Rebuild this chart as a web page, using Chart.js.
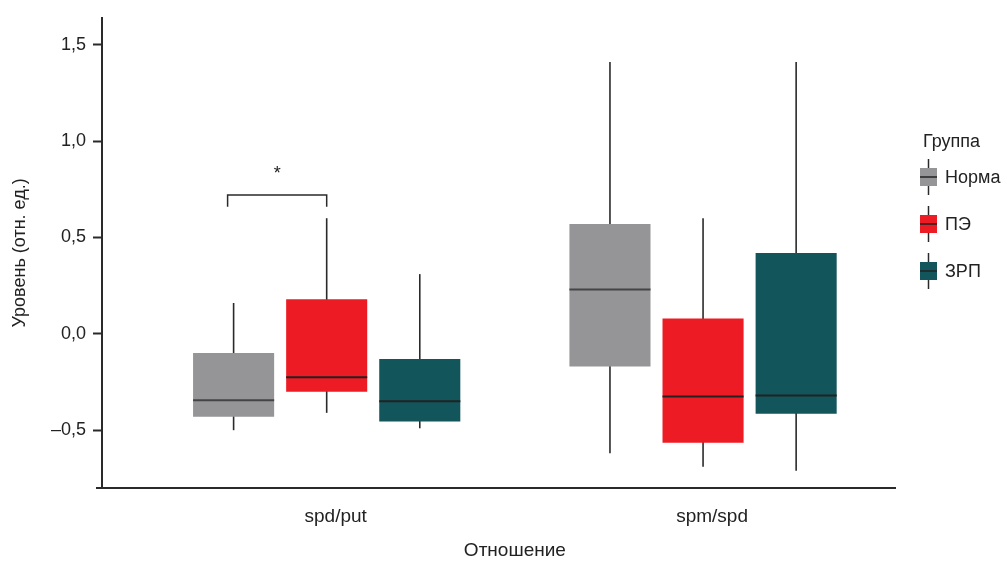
<!DOCTYPE html>
<html>
<head>
<meta charset="utf-8">
<script src="https://cdn.jsdelivr.net/npm/chart.js@4.4.0/dist/chart.umd.min.js"></script>
<style>
  html, body { margin: 0; padding: 0; background: #fff; }
  #wrap { width: 1007px; height: 563px; }
</style>
</head>
<body>
<div id="wrap"><canvas id="box-chart"></canvas></div>
<script>
// categories and groups
const categories = ['spd/put', 'spm/spd'];
const groups = ['Норма', 'ПЭ', 'ЗРП'];
const groupColors = ['#959598', '#ED1C24', '#12555B'];
const yTicks = [-0.5, 0, 0.5, 1.0, 1.5];

// box stats per group, one value per category
const normaMin = [-0.50, -0.62];
const normaQ1 = [-0.43, -0.17];
const normaMed = [-0.345, 0.23];
const normaQ3 = [-0.10, 0.57];
const normaMax = [0.16, 1.41];

const peMin = [-0.41, -0.69];
const peQ1 = [-0.30, -0.565];
const peMed = [-0.225, -0.325];
const peQ3 = [0.18, 0.08];
const peMax = [0.60, 0.60];

const zrpMin = [-0.49, -0.71];
const zrpQ1 = [-0.455, -0.415];
const zrpMed = [-0.35, -0.32];
const zrpQ3 = [-0.13, 0.42];
const zrpMax = [0.31, 1.41];

// significance mark between Норма and ПЭ in spd/put
const sigBracket = { category: 0, from: 0, to: 1, level: 0.72, drop: 0.66, label: '*' };

const FONT = "'Liberation Sans', Arial, sans-serif";
const stats = [
    { min: normaMin, q1: normaQ1, med: normaMed, q3: normaQ3, max: normaMax },
    { min: peMin, q1: peQ1, med: peMed, q3: peQ3, max: peMax },
    { min: zrpMin, q1: zrpQ1, med: zrpMed, q3: zrpQ3, max: zrpMax }
];

const datasets = groups.map((name, g) => ({
    label: name,
    data: categories.map((c, i) => ({ x: i, y: [stats[g].q1[i], stats[g].q3[i]] })),
    backgroundColor: groupColors[g],
    borderWidth: 0,
    categoryPercentage: 0.742,
    barPercentage: 0.871
}));

// whiskers under the boxes, medians over them
const boxParts = {
    id: 'boxParts',
    beforeDatasetsDraw(chart) {
        const ctx = chart.ctx;
        const y = chart.scales.y;
        ctx.save();
        ctx.strokeStyle = '#2a2a2a';
        ctx.lineWidth = 1.6;
        chart.data.datasets.forEach((ds, g) => {
            chart.getDatasetMeta(g).data.forEach((bar, i) => {
                ctx.beginPath();
                ctx.moveTo(bar.x, y.getPixelForValue(stats[g].max[i]));
                ctx.lineTo(bar.x, y.getPixelForValue(stats[g].min[i]));
                ctx.stroke();
            });
        });
        ctx.restore();
    },
    afterDatasetsDraw(chart) {
        const ctx = chart.ctx;
        const y = chart.scales.y;
        ctx.save();
        ctx.lineWidth = 2;
        chart.data.datasets.forEach((ds, g) => {
            ctx.strokeStyle = g === 0 ? '#444446' : '#222';
            chart.getDatasetMeta(g).data.forEach((bar, i) => {
                const py = y.getPixelForValue(stats[g].med[i]);
                ctx.beginPath();
                ctx.moveTo(bar.x - bar.width / 2, py);
                ctx.lineTo(bar.x + bar.width / 2, py);
                ctx.stroke();
            });
        });

        // significance bracket
        const a = chart.getDatasetMeta(sigBracket.from).data[sigBracket.category];
        const b = chart.getDatasetMeta(sigBracket.to).data[sigBracket.category];
        const x1 = a.x - 6, x2 = b.x;
        const yl = y.getPixelForValue(sigBracket.level);
        const yd = y.getPixelForValue(sigBracket.drop);
        ctx.strokeStyle = '#2a2a2a';
        ctx.lineWidth = 1.5;
        ctx.beginPath();
        ctx.moveTo(x1, yd);
        ctx.lineTo(x1, yl);
        ctx.lineTo(x2, yl);
        ctx.lineTo(x2, yd);
        ctx.stroke();
        ctx.fillStyle = '#222';
        ctx.font = '18px ' + FONT;
        ctx.textAlign = 'center';
        ctx.textBaseline = 'middle';
        ctx.fillText(sigBracket.label, (x1 + x2) / 2, yl - 21);

        // x axis title, centred between the two categories
        const xs = chart.scales.x;
        ctx.font = '19px ' + FONT;
        ctx.fillStyle = '#222';
        ctx.fillText('Отношение', xs.getPixelForValue(0.5), 551);

        // small overhang of the x axis to the left
        ctx.strokeStyle = '#2a2a2a';
        ctx.lineWidth = 2;
        ctx.beginPath();
        ctx.moveTo(chart.chartArea.left - 6, chart.chartArea.bottom);
        ctx.lineTo(chart.chartArea.left, chart.chartArea.bottom);
        ctx.stroke();
        ctx.restore();
    }
};

// legend with little box glyphs
const boxLegend = {
    id: 'boxLegend',
    afterDraw(chart) {
        const ctx = chart.ctx;
        ctx.save();
        ctx.fillStyle = '#222';
        ctx.font = '18px ' + FONT;
        ctx.textAlign = 'left';
        ctx.textBaseline = 'middle';
        ctx.fillText('Группа', 923, 142);
        groups.forEach((name, g) => {
            const cy = 177 + g * 47;
            ctx.strokeStyle = '#2a2a2a';
            ctx.lineWidth = 1.5;
            ctx.beginPath();
            ctx.moveTo(928.5, cy - 18);
            ctx.lineTo(928.5, cy + 18);
            ctx.stroke();
            ctx.fillStyle = groupColors[g];
            ctx.fillRect(920, cy - 9, 17, 18);
            ctx.strokeStyle = '#222';
            ctx.lineWidth = 1.5;
            ctx.beginPath();
            ctx.moveTo(920, cy);
            ctx.lineTo(937, cy);
            ctx.stroke();
            ctx.fillStyle = '#222';
            ctx.fillText(name, 945, cy + 1);
        });
        ctx.restore();
    }
};

const ctx = document.getElementById('box-chart').getContext('2d');
const chart = new Chart(ctx, {
    type: 'bar',
    data: { datasets: datasets },
    options: {
        responsive: true,
        maintainAspectRatio: false,
        animation: false,
        layout: { padding: { left: 0, right: 112, top: 14, bottom: 0 } },
        plugins: {
            legend: { display: false },
            tooltip: { enabled: false }
        },
        scales: {
            x: {
                type: 'linear',
                offset: false,
                min: -0.597,
                max: 1.51,
                afterBuildTicks: (scale) => { scale.ticks = categories.map((c, i) => ({ value: i })); },
                afterFit: (scale) => { scale.height = 75; },
                grid: { display: false, drawTicks: false },
                border: { display: true, color: '#2a2a2a', width: 2 },
                ticks: {
                    callback: (v) => categories[v],
                    color: '#222',
                    font: { family: FONT, size: 19 },
                    padding: 17,
                    labelOffset: 9,
                    maxRotation: 0
                }
            },
            y: {
                min: -0.8,
                max: 1.64,
                afterBuildTicks: (scale) => { scale.ticks = yTicks.map(v => ({ value: v })); },
                afterFit: (scale) => { scale.width = 102; },
                grid: { drawOnChartArea: false, tickLength: 9, tickWidth: 2, color: '#2a2a2a' },
                border: { display: true, color: '#2a2a2a', width: 2 },
                ticks: {
                    callback: (v) => (v < 0 ? '–' : '') + Math.abs(v).toFixed(1).replace('.', ','),
                    color: '#222',
                    font: { family: FONT, size: 18 },
                    padding: 7
                },
                title: {
                    display: true,
                    text: 'Уровень (отн. ед.)',
                    color: '#222',
                    font: { family: FONT, size: 18 },
                    padding: { top: 9, bottom: 0 }
                }
            }
        }
    },
    plugins: [boxParts, boxLegend]
});
</script>
</body>
</html>
